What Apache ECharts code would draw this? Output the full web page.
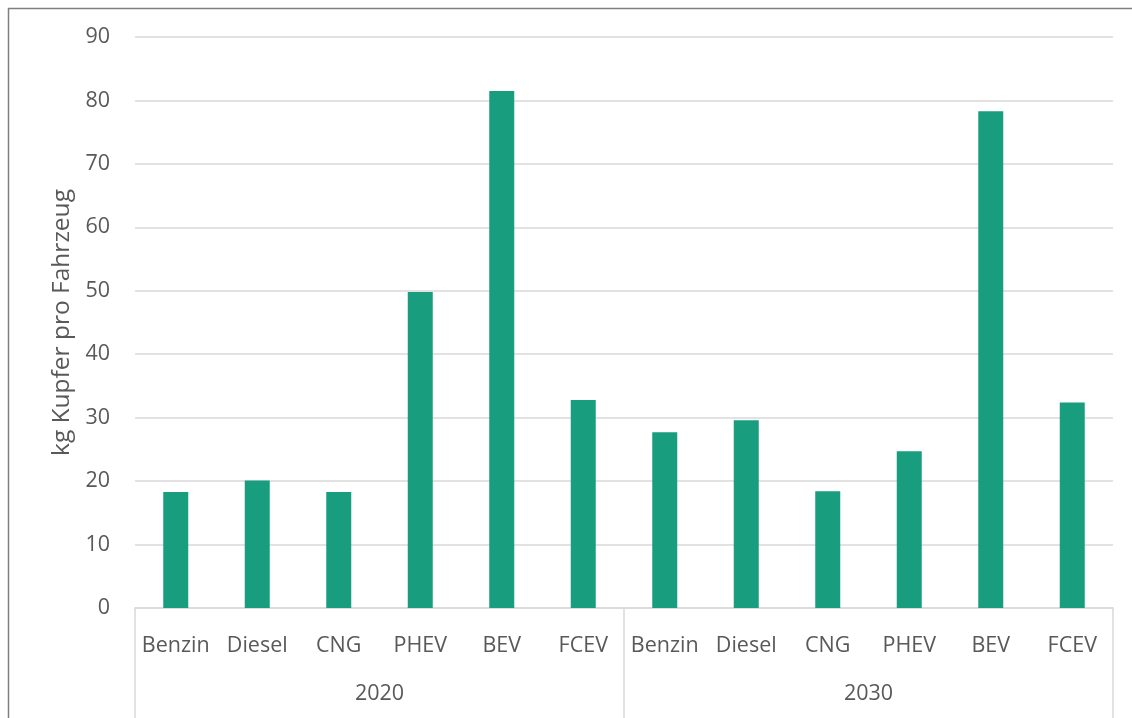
<!DOCTYPE html>
<html>
<head>
<meta charset="utf-8">
<script src="https://cdn.jsdelivr.net/npm/echarts@6/dist/echarts.min.js"></script>
<style>
  html, body { margin: 0; padding: 0; background: #fff; }
  #chart { width: 1132px; height: 718px; }
</style>
</head>
<body>
<div id="chart"></div>
<script>
var fuels = ['Benzin', 'Diesel', 'CNG', 'PHEV', 'BEV', 'FCEV'];
var years = ['2020', '2030'];
var values2020 = [18.3, 20.1, 18.3, 49.8, 81.5, 32.8];
var values2030 = [27.7, 29.6, 18.4, 24.7, 78.3, 32.4];
var yTicks = [0, 90, 10];

var categories = fuels.concat(fuels);
var values = values2020.concat(values2030);
var textColor = '#595959';
var font = '"Open Sans", "Noto Sans", sans-serif';

var myChart = echarts.init(document.getElementById('chart'));
var option = {
  animation: false,
  graphic: [
    {
      type: 'rect',
      shape: {x: 8.5, y: 8.5, width: 1140, height: 730},
      style: {fill: 'none', stroke: '#7f7f7f', lineWidth: 1.5},
      silent: true
    }
  ],
  grid: {left: 135, right: 19, top: 37, bottom: 110},
  xAxis: [
    {
      type: 'category',
      data: categories,
      axisLine: {lineStyle: {color: '#d9d9d9', width: 1.5}},
      axisTick: {show: false},
      axisLabel: {color: textColor, fontSize: 21.5, fontFamily: font, margin: 27, interval: 0}
    },
    {
      type: 'category',
      data: years,
      position: 'bottom',
      axisLine: {show: false},
      axisTick: {show: true, length: 120, interval: 0, lineStyle: {color: '#d9d9d9', width: 1.5}},
      axisLabel: {color: textColor, fontSize: 21.5, fontFamily: font, margin: 75}
    }
  ],
  yAxis: {
    type: 'value',
    min: yTicks[0],
    max: yTicks[1],
    interval: yTicks[2],
    name: 'kg Kupfer pro Fahrzeug',
    nameLocation: 'middle',
    nameGap: 59,
    nameTextStyle: {color: textColor, fontSize: 24.5, fontFamily: font},
    axisLine: {show: false},
    axisTick: {show: false},
    axisLabel: {color: textColor, fontSize: 21.5, fontFamily: font, margin: 25},
    splitLine: {lineStyle: {color: '#d9d9d9', width: 1.5}}
  },
  series: [
    {
      type: 'bar',
      data: values,
      barWidth: 25,
      itemStyle: {color: '#189e7e'}
    }
  ]
};
myChart.setOption(option);
</script>
</body>
</html>
